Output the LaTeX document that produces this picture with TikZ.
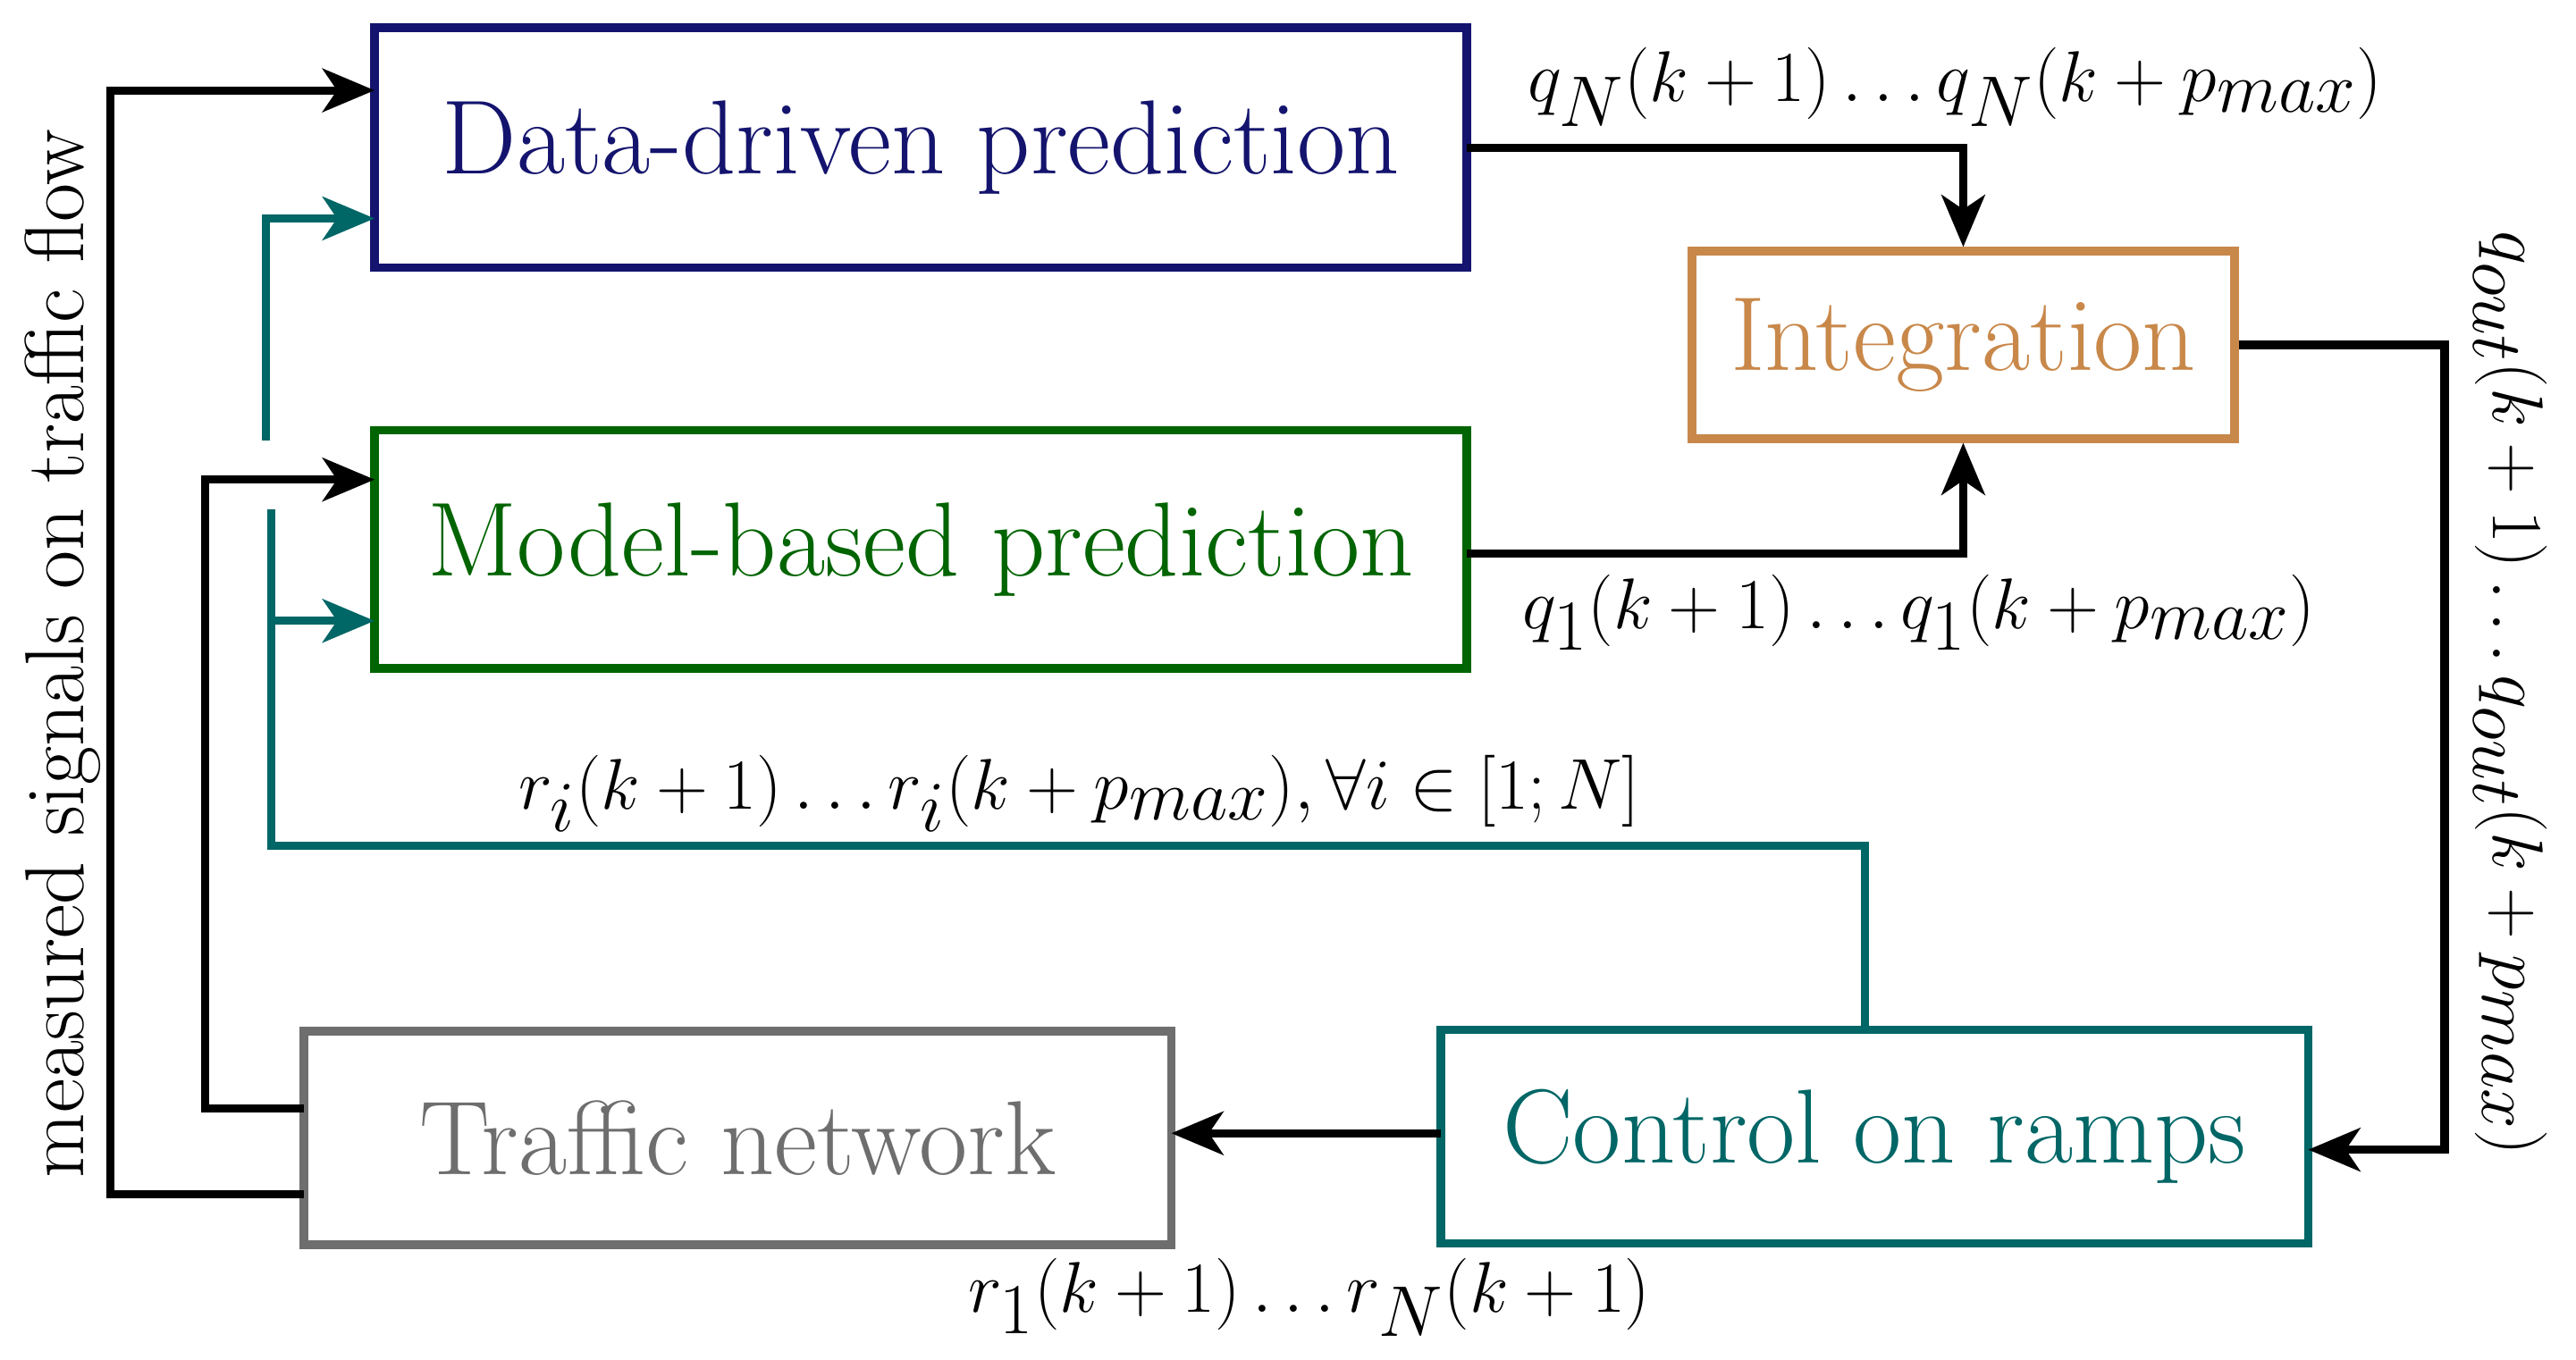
\documentclass[tikz,border=0pt]{standalone}
\usetikzlibrary{arrows.meta}
\definecolor{cnavy}{RGB}{20,20,110}
\definecolor{cint}{RGB}{200,136,74}
\definecolor{cgreen}{RGB}{0,100,0}
\definecolor{cgray}{RGB}{110,110,110}
\definecolor{cteal}{RGB}{0,102,102}
\begin{document}
\begin{tikzpicture}[x=0.02cm,y=-0.02cm,
  boxst/.style={draw,line width=3pt,inner sep=0pt,font=\fontsize{36.5}{42}\selectfont},
  conn/.style={line width=2.8pt,-{Stealth[length=18pt,width=15pt,inset=5pt]}},
  lab/.style={font=\fontsize{33.5}{38}\selectfont},
  rlab/.style={font=\fontsize{29}{34}\selectfont}]
\useasboundingbox (0,0) rectangle (1568,828);
\node[boxst,cnavy,minimum width=13.3cm,minimum height=2.92cm] (dd) at (560.5,90) {Data-driven prediction};
\node[boxst,cint,minimum width=6.6cm,minimum height=2.28cm] (int) at (1195,210) {Integration};
\node[boxst,cgreen,minimum width=13.3cm,minimum height=2.9cm] (mb) at (560.5,334.5) {Model-based prediction};
\node[boxst,cgray,minimum width=10.56cm,minimum height=2.6cm] (tn) at (449,693) {Traffic network};
\node[boxst,cteal,minimum width=10.56cm,minimum height=2.6cm] (cr) at (1141,692) {Control on ramps};
\coordinate (a1) at (893,90);
\draw[conn] (a1) -| (int.north);
\coordinate (a2) at (893,337);
\draw[conn] (a2) -| (int.south);
\coordinate (a3) at (1405,700);
\draw[conn] (int.east) -| (1488,700) -- (a3);
\coordinate (a4) at (713,690);
\draw[conn] (877,690) -- (a4);
\coordinate (a5) at (228,55);
\draw[conn] (185,727) -| (67,55) -- (a5);
\coordinate (a6) at (228,292);
\draw[conn] (185,675) -| (125,292) -- (a6);
\coordinate (a7) at (228,378);
\coordinate (a8) at (228,133);
\draw[line width=2.8pt,cteal] (1135,627) |- (165,515) -- (165,310);
\draw[conn,cteal] (165,378) -- (a7);
\draw[conn,cteal] (162,268) |- (a8);
\node[lab] (l1) at (1190,53) {$q_N(k+1)\ldots q_N(k+p_{max})$};
\node[lab] (l2) at (1168,373) {$q_1(k+1)\ldots q_1(k+p_{max})$};
\node[lab] (l3) at (657,483) {$r_i(k+1)\ldots r_i(k+p_{max}),\forall i\in[1;N]$};
\node[lab] (l4) at (797,790) {$r_1(k+1)\ldots r_N(k+1)$};
\node[lab,rotate=-90] (l5) at (1528,422) {$q_{out}(k+1)\ldots q_{out}(k+p_{max})$};
\node[rlab,rotate=90] (l6) at (38,398) {measured signals on traffic flow};
\end{tikzpicture}
\end{document}
